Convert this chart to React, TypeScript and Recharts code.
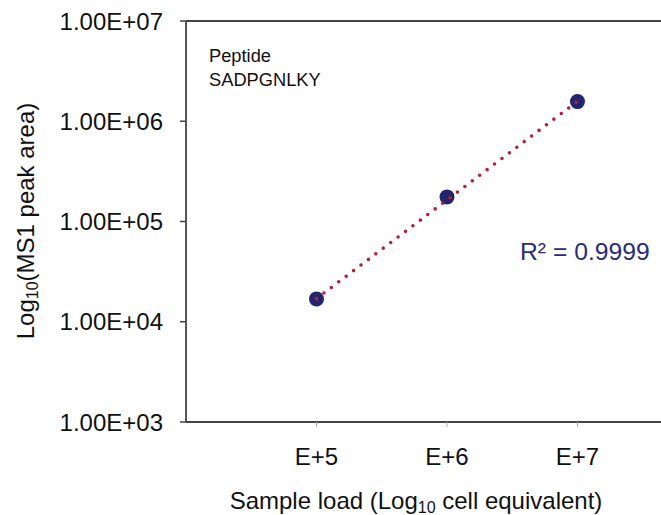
import React from "react";
import {
  ScatterChart,
  Scatter,
  XAxis,
  YAxis,
  ReferenceLine,
} from "recharts";

// sample load exponents (E+5, E+6, E+7) and measured MS1 peak areas
const loadExponents = [5, 6, 7];
const peakAreas = [16900, 176000, 1570000];

// fitted trendline end points
const trendExponents = [5, 7];
const trendAreas = [17000, 1580000];

const xTicks = [5, 6, 7];
const yTicks = [1e3, 1e4, 1e5, 1e6, 1e7];

const points = loadExponents.map((x, i) => ({ x, y: peakAreas[i] }));
const trend = trendExponents.map((x, i) => ({ x, y: trendAreas[i] }));

const FONT = "'Liberation Sans', Arial, sans-serif";
const AXIS = "#444";

const fmtY = (v: number) => {
  const exp = Math.round(Math.log10(v));
  return `1.00E+${String(exp).padStart(2, "0")}`;
};

export default function App() {
  return (
    <div style={{ position: "absolute", left: 0, top: 0, fontFamily: FONT }}>
      <ScatterChart
        width={661}
        height={515}
        margin={{ top: 21, right: 0, bottom: 0, left: 0 }}
      >
        <XAxis
          type="number"
          dataKey="x"
          domain={[4, 7.64]}
          ticks={xTicks}
          tickFormatter={(v: number) => `E+${v}`}
          height={93}
          axisLine={{ stroke: AXIS, strokeWidth: 1.8 }}
          tickLine={{ stroke: "#b0b0b0" }}
          tickSize={5}
          tickMargin={21}
          tick={{ fill: "#111", fontSize: 24, fontFamily: FONT }}
          allowDataOverflow
        />
        <YAxis
          type="number"
          dataKey="y"
          scale="log"
          domain={[1e3, 1e7]}
          ticks={yTicks}
          tickFormatter={fmtY}
          width={186}
          axisLine={{ stroke: AXIS, strokeWidth: 1.8 }}
          tickLine={{ stroke: AXIS, strokeWidth: 1.5 }}
          tickSize={6}
          tickMargin={17}
          tick={{ fill: "#111", fontSize: 24, fontFamily: FONT }}
          allowDataOverflow
        />
        <ReferenceLine y={1e7} stroke={AXIS} strokeWidth={1.8} />
        <Scatter
          data={points}
          isAnimationActive={false}
          shape={(p: any) => (
            <circle cx={p.cx} cy={p.cy} r={7.5} fill="#23246e" />
          )}
        />
        <Scatter
          data={trend}
          isAnimationActive={false}
          line={{
            stroke: "#b41f3a",
            strokeWidth: 3.6,
            strokeDasharray: "0 9.3",
            strokeLinecap: "round",
          }}
          shape={() => <g />}
        />
        <text x={209} y={62} fontSize={18.3} fill="#111" fontFamily={FONT}>
          Peptide
        </text>
        <text x={209} y={86} fontSize={18.3} fill="#111" fontFamily={FONT}>
          SADPGNLKY
        </text>
        <text x={520} y={260} fontSize={24.7} fill="#2b2c74" fontFamily={FONT}>
          R² = 0.9999
        </text>
        <text
          x={416}
          y={509}
          fontSize={24}
          fill="#111"
          textAnchor="middle"
          fontFamily={FONT}
        >
          Sample load (Log
          <tspan fontSize={16} dy={4}>
            10
          </tspan>
          <tspan dy={-4}> cell equivalent)</tspan>
        </text>
        <text
          x={34}
          y={221}
          fontSize={24}
          fill="#111"
          textAnchor="middle"
          transform="rotate(-90 34 221)"
          fontFamily={FONT}
        >
          Log
          <tspan fontSize={16} dy={4}>
            10
          </tspan>
          <tspan dy={-4}>(MS1 peak area)</tspan>
        </text>
      </ScatterChart>
    </div>
  );
}
